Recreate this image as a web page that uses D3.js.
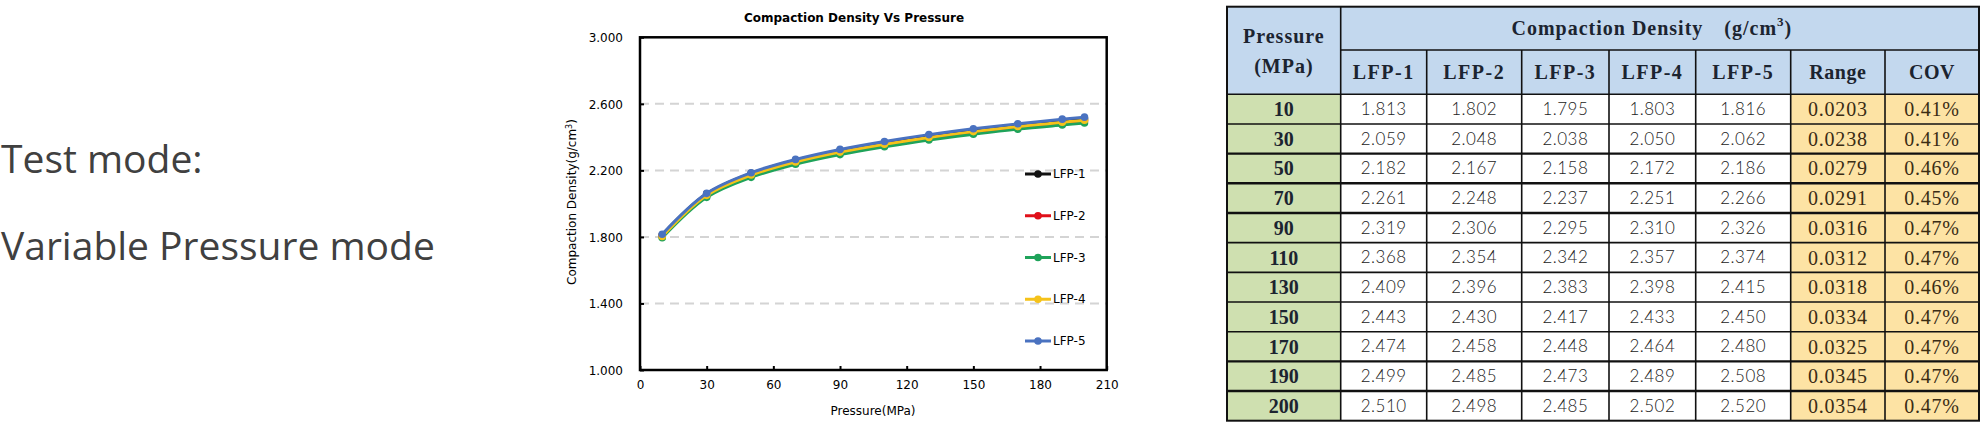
<!DOCTYPE html>
<html>
<head>
<meta charset="utf-8">
<script src="https://cdn.jsdelivr.net/npm/d3@7"></script>
<style>
  html, body { margin: 0; padding: 0; background: #fff; }
  svg { display: block; }
</style>
</head>
<body>
<svg id="root" width="1982" height="427"></svg>
<script>
// ---------------- DATA ----------------
const pressures = [10, 30, 50, 70, 90, 110, 130, 150, 170, 190, 200];
const seriesNames = ["LFP-1", "LFP-2", "LFP-3", "LFP-4", "LFP-5"];
const lfp1 = [1.813, 2.059, 2.182, 2.261, 2.319, 2.368, 2.409, 2.443, 2.474, 2.499, 2.510];
const lfp2 = [1.802, 2.048, 2.167, 2.248, 2.306, 2.354, 2.396, 2.430, 2.458, 2.485, 2.498];
const lfp3 = [1.795, 2.038, 2.158, 2.237, 2.295, 2.342, 2.383, 2.417, 2.448, 2.473, 2.485];
const lfp4 = [1.803, 2.050, 2.172, 2.251, 2.310, 2.357, 2.398, 2.433, 2.464, 2.489, 2.502];
const lfp5 = [1.816, 2.062, 2.186, 2.266, 2.326, 2.374, 2.415, 2.450, 2.480, 2.508, 2.520];
const rangeVals = ["0.0203", "0.0238", "0.0279", "0.0291", "0.0316", "0.0312", "0.0318", "0.0334", "0.0325", "0.0345", "0.0354"];
const covVals = ["0.41%", "0.41%", "0.46%", "0.45%", "0.47%", "0.47%", "0.46%", "0.47%", "0.47%", "0.47%", "0.47%"];
const xTicks = [0, 30, 60, 90, 120, 150, 180, 210];
const yTicks = [1.0, 1.4, 1.8, 2.2, 2.6, 3.0];
const seriesColors = ["#111111", "#e0101a", "#1fa35a", "#f5c21a", "#4a72c0"];

const seriesValues = [lfp1, lfp2, lfp3, lfp4, lfp5];

const svg = d3.select("#root");

// ---------------- LEFT TEXT ----------------
const leftText = svg.append("g")
  .attr("font-family", "'Open Sans', 'Noto Sans', sans-serif")
  .attr("font-size", 39)
  .attr("fill", "#404040");
leftText.append("text").attr("x", 1).attr("y", 173).text("Test mode:");
leftText.append("text").attr("x", 1).attr("y", 260).text("Variable Pressure mode");

// ---------------- CHART ----------------
const x = d3.scaleLinear().domain([0, 210]).range([640, 1106.7]);
const y = d3.scaleLinear().domain([1, 3]).range([370, 37.3]);
const chartFont = "'DejaVu Sans', Verdana, sans-serif";
const chart = svg.append("g").attr("font-family", chartFont);

// grid
chart.append("g").selectAll("line")
  .data(yTicks.filter(t => t > 1 && t < 3))
  .join("line")
  .attr("x1", x(0)).attr("x2", x(210))
  .attr("y1", d => y(d)).attr("y2", d => y(d))
  .attr("stroke", "#d4d4d4").attr("stroke-width", 2)
  .attr("stroke-dasharray", "9,6");

// axes
const xAxis = d3.axisBottom(x).tickValues(xTicks).tickSize(-4).tickPadding(10).tickFormat(d3.format("d"));
const yAxis = d3.axisLeft(y).tickValues(yTicks).tickSize(-4).tickPadding(17).tickFormat(d3.format(".3f"));

const gx = chart.append("g").attr("transform", `translate(0,${y(1)})`).call(xAxis);
const gy = chart.append("g").attr("transform", `translate(${x(0)},0)`).call(yAxis);
[gx, gy].forEach(g => {
  g.select(".domain").remove();
  g.selectAll(".tick line").attr("stroke", "#000").attr("stroke-width", 2);
  g.selectAll(".tick text").attr("font-family", chartFont).attr("font-size", 12).attr("fill", "#000");
});
gx.selectAll(".tick text").attr("dy", "0.71em");
gy.selectAll(".tick text").attr("dy", "0.35em");

// plot border
chart.append("rect")
  .attr("x", x(0)).attr("y", y(3))
  .attr("width", x(210) - x(0)).attr("height", y(1) - y(3))
  .attr("fill", "none").attr("stroke", "#000").attr("stroke-width", 2.5);

// series
const line = d3.line().x((d, i) => x(pressures[i])).y(d => y(d)).curve(d3.curveCatmullRom.alpha(0.5));
const series = chart.append("g").selectAll("g")
  .data(seriesValues)
  .join("g");
series.append("path")
  .attr("d", d => line(d))
  .attr("fill", "none")
  .attr("stroke", (d, i) => seriesColors[i])
  .attr("stroke-width", 3);
series.selectAll("circle")
  .data((d, i) => d.map(v => ({ v, i })))
  .join("circle")
  .attr("cx", (d, j) => x(pressures[j]))
  .attr("cy", d => y(d.v))
  .attr("r", 3.8)
  .attr("fill", d => seriesColors[d.i]);

// legend
const legY = d3.scalePoint().domain(seriesNames).range([174, 341]);
const leg = chart.append("g").selectAll("g").data(seriesNames).join("g")
  .attr("transform", d => `translate(1025,${legY(d)})`);
leg.append("line").attr("x1", 0).attr("x2", 26).attr("y1", 0).attr("y2", 0)
  .attr("stroke", (d, i) => seriesColors[i]).attr("stroke-width", 3);
leg.append("circle").attr("cx", 13).attr("cy", 0).attr("r", 3.8)
  .attr("fill", (d, i) => seriesColors[i]);
leg.append("text").attr("x", 28).attr("y", 0).attr("dy", "0.35em")
  .attr("font-size", 12).attr("fill", "#000").text(d => d);

// titles
chart.append("text").attr("x", 854).attr("y", 22).attr("text-anchor", "middle")
  .attr("font-size", 12).attr("font-weight", "bold").attr("fill", "#000")
  .text("Compaction Density Vs Pressure");
chart.append("text").attr("x", 873).attr("y", 415).attr("text-anchor", "middle")
  .attr("font-size", 12).attr("fill", "#000").text("Pressure(MPa)");
const yl = chart.append("text")
  .attr("transform", "translate(576,202) rotate(-90)")
  .attr("text-anchor", "middle").attr("font-size", 12).attr("fill", "#000");
yl.append("tspan").text("Compaction Density(g/cm");
yl.append("tspan").attr("font-size", 8).attr("dy", -4).text("3");
yl.append("tspan").attr("dy", 4).text(")");

// ---------------- TABLE ----------------
const colEdges = [1227, 1340.7, 1426.7, 1521.7, 1609, 1695.7, 1790.7, 1885, 1979];
const headTop = 6.7, head1Bottom = 50, head2Bottom = 94.3, tableBottom = 420.7;
const rowY = d3.scaleBand().domain(d3.range(pressures.length)).range([head2Bottom, tableBottom]);
const headerCols = seriesNames.concat(["Range", "COV"]);
const serif = "'Liberation Serif', 'Times New Roman', serif";
const cellSans = "Lato, 'Liberation Sans', sans-serif";

const tbl = svg.append("g");
const headFill = "#c3d8ee", pressFill = "#cfe0b0", yellowFill = "#fde3a4";

// fills
tbl.append("rect").attr("x", colEdges[0]).attr("y", headTop)
  .attr("width", colEdges[8] - colEdges[0]).attr("height", head2Bottom - headTop).attr("fill", headFill);
tbl.append("g").selectAll("rect").data(pressures).join("rect")
  .attr("x", colEdges[0]).attr("y", (d, i) => rowY(i))
  .attr("width", colEdges[1] - colEdges[0]).attr("height", rowY.bandwidth()).attr("fill", pressFill);
tbl.append("g").selectAll("rect").data(pressures).join("rect")
  .attr("x", colEdges[6]).attr("y", (d, i) => rowY(i))
  .attr("width", colEdges[8] - colEdges[6]).attr("height", rowY.bandwidth()).attr("fill", yellowFill);

// grid lines
const gl = tbl.append("g").attr("stroke", "#111").attr("stroke-width", 1.6);
// horizontal lines for data rows
const thickRows = [1, 2, 3, 8, 9];
gl.selectAll("line.h").data(d3.range(pressures.length)).join("line").attr("class", "h")
  .attr("x1", colEdges[0]).attr("x2", colEdges[8])
  .attr("y1", i => rowY(i)).attr("y2", i => rowY(i))
  .attr("stroke-width", i => thickRows.includes(i - 1) ? 2.4 : 1.6);
// header separation line (between header row1 & row2) from col1
gl.append("line").attr("x1", colEdges[1]).attr("x2", colEdges[8]).attr("y1", head1Bottom).attr("y2", head1Bottom);
// vertical lines
gl.selectAll("line.v").data(colEdges.slice(1, 8)).join("line").attr("class", "v")
  .attr("x1", d => d).attr("x2", d => d)
  .attr("y1", (d, i) => i === 0 ? headTop : head1Bottom).attr("y2", tableBottom);
// outer border
tbl.append("rect").attr("x", colEdges[0]).attr("y", headTop)
  .attr("width", colEdges[8] - colEdges[0]).attr("height", tableBottom - headTop)
  .attr("fill", "none").attr("stroke", "#111").attr("stroke-width", 2);

// header text
const hdr = tbl.append("g").attr("font-family", serif).attr("font-weight", "bold")
  .attr("font-size", 20).attr("fill", "#1c2430").attr("text-anchor", "middle")
  .attr("letter-spacing", 1);
const pcx = (colEdges[0] + colEdges[1]) / 2;
hdr.append("text").attr("x", pcx).attr("y", 43).text("Pressure");
hdr.append("text").attr("x", pcx).attr("y", 73).text("(MPa)");
const ht = hdr.append("text").attr("x", (colEdges[1] + colEdges[8]) / 2 - 8).attr("y", 35);
ht.append("tspan").text("Compaction Density\u3000(g/cm");
ht.append("tspan").attr("font-size", 13).attr("dy", -9).text("3");
ht.append("tspan").attr("dy", 9).text(")");
hdr.selectAll("text.col").data(headerCols).join("text").attr("class", "col")
  .attr("x", (d, i) => (colEdges[i + 1] + colEdges[i + 2]) / 2)
  .attr("y", 79)
  .attr("letter-spacing", (d, i) => i < 5 ? 1.5 : 0.5)
  .text(d => d);

// data text
const fmt = d3.format(".3f");
const rows = tbl.append("g").selectAll("g").data(pressures).join("g")
  .attr("transform", (d, i) => `translate(0,${rowY(i) + rowY.bandwidth() / 2})`);
rows.append("text").attr("x", pcx).attr("dy", "0.35em")
  .attr("text-anchor", "middle").attr("font-family", serif).attr("font-weight", "bold")
  .attr("font-size", 20).attr("fill", "#1c2430").text(d => d);
seriesValues.forEach((vals, s) => {
  rows.append("text")
    .attr("x", (colEdges[s + 1] + colEdges[s + 2]) / 2)
    .attr("dy", "0.35em").attr("text-anchor", "middle")
    .attr("font-family", cellSans).attr("font-weight", 300)
    .attr("font-size", 17).attr("letter-spacing", 0.5).attr("fill", "#222")
    .text((d, i) => fmt(vals[i]));
});
rows.append("text").attr("x", (colEdges[6] + colEdges[7]) / 2).attr("dy", "0.35em")
  .attr("text-anchor", "middle").attr("font-family", serif).attr("font-size", 20)
  .attr("letter-spacing", 0.8).attr("fill", "#3a2c14").text((d, i) => rangeVals[i]);
rows.append("text").attr("x", (colEdges[7] + colEdges[8]) / 2).attr("dy", "0.35em")
  .attr("text-anchor", "middle").attr("font-family", serif).attr("font-size", 20)
  .attr("letter-spacing", 0.8).attr("fill", "#3a2c14").text((d, i) => covVals[i]);
</script>
</body>
</html>
